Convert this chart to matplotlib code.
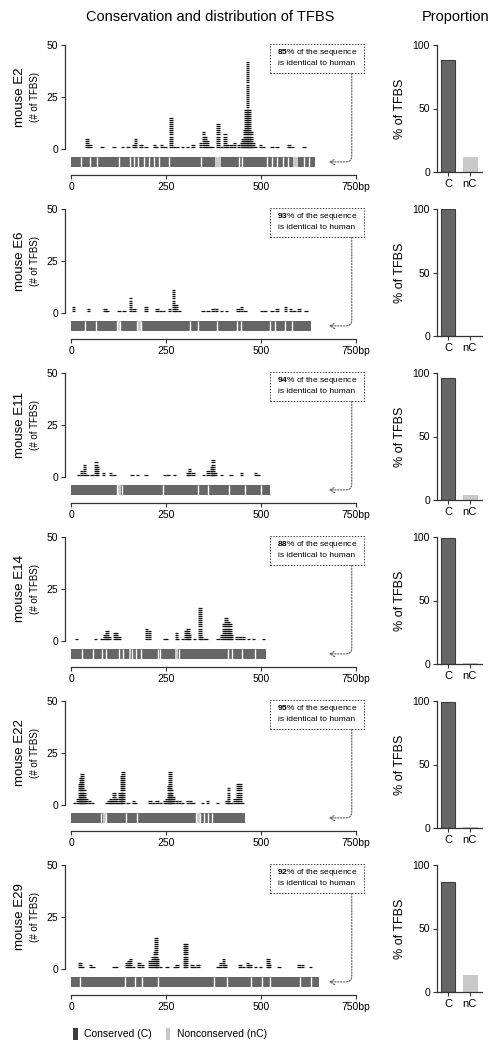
import numpy as np
import matplotlib.pyplot as plt
from matplotlib.patches import Rectangle, Patch

plt.rcParams['font.family'] = ['Liberation Sans', 'DejaVu Sans']
plt.rcParams['mathtext.fontset'] = 'custom'
plt.rcParams['mathtext.bf'] = 'Liberation Sans:bold'
plt.rcParams['mathtext.rm'] = 'Liberation Sans'

# ---- data ----
names = ["mouse E2", "mouse E6", "mouse E11", "mouse E14", "mouse E22", "mouse E29"]
identity = [85, 93, 94, 88, 95, 92]          # % identical to human
seq_len = [643, 631, 523, 514, 458, 653]     # bp
prop_c = [88, 100, 96, 99, 99, 87]           # % of TFBS conserved
prop_nc = [12, 0, 4, 1, 1, 13]               # % of TFBS nonconserved

# TFBS stacks: (position bp, number of TFBS)
e2_tfbs = [(42, 5), (50, 2), (82, 1), (113, 1), (135, 1), (150, 1), (164, 2), (170, 5), (184, 2),
           (197, 1), (219, 2), (225, 1), (238, 2), (247, 1), (263, 15), (272, 1), (281, 1), (294, 1),
           (307, 1), (321, 2), (341, 3), (348, 8), (354, 6), (359, 4), (365, 1), (371, 1), (387, 12),
           (396, 1), (405, 7), (412, 2), (421, 2), (430, 3), (441, 2), (448, 3), (452, 5), (457, 9),
           (461, 19), (465, 42), (469, 19), (474, 8), (479, 3), (485, 1), (498, 2), (507, 1),
           (529, 1), (542, 1), (574, 2), (583, 1), (613, 1)]
e6_tfbs = [(6, 3), (46, 2), (90, 2), (95, 1), (126, 1), (139, 1), (157, 7), (166, 2), (197, 3),
           (226, 2), (235, 1), (244, 1), (259, 2), (270, 11), (276, 4), (285, 1), (347, 1), (361, 1),
           (374, 2), (383, 2), (396, 1), (409, 1), (440, 2), (449, 3), (458, 1), (502, 1), (511, 1),
           (529, 1), (542, 2), (565, 3), (578, 2), (587, 1), (600, 2), (618, 1)]
e11_tfbs = [(20, 1), (28, 3), (35, 6), (42, 1), (55, 1), (66, 7), (70, 5), (86, 2), (104, 2),
            (113, 1), (161, 1), (175, 1), (197, 1), (246, 1), (255, 1), (272, 1), (308, 2), (312, 4),
            (321, 2), (348, 1), (361, 3), (370, 5), (374, 8), (379, 2), (396, 1), (421, 1),
            (448, 2), (485, 2), (492, 1)]
e14_tfbs = [(15, 1), (64, 1), (82, 1), (90, 3), (95, 5), (100, 2), (114, 4), (120, 4), (126, 2),
            (199, 6), (206, 5), (246, 1), (251, 1), (277, 4), (281, 1), (294, 1), (303, 5), (308, 6),
            (312, 3), (325, 1), (339, 16), (343, 2), (352, 1), (356, 1), (387, 1), (396, 3), (403, 8),
            (408, 11), (414, 9), (418, 8), (423, 3), (436, 2), (445, 2), (454, 2), (467, 1),
            (480, 1), (507, 1)]
e22_tfbs = [(9, 1), (17, 3), (22, 10), (26, 13), (29, 15), (34, 7), (39, 3), (48, 2), (57, 1),
            (93, 1), (99, 2), (104, 3), (108, 2), (113, 6), (119, 3), (123, 1), (129, 6), (133, 14),
            (137, 16), (150, 1), (164, 2), (170, 1), (208, 2), (217, 1), (226, 2), (235, 1),
            (246, 2), (253, 3), (258, 9), (261, 16), (265, 7), (270, 4), (277, 2), (285, 2),
            (294, 1), (306, 2), (315, 2), (321, 1), (346, 1), (359, 2), (386, 1), (410, 2),
            (414, 8), (421, 1), (432, 3), (438, 10), (445, 10), (452, 1)]
e29_tfbs = [(24, 3), (31, 1), (51, 2), (58, 1), (113, 1), (120, 1), (146, 3), (151, 4), (157, 5),
            (164, 1), (179, 3), (188, 2), (208, 4), (215, 6), (221, 8), (224, 15), (228, 5),
            (235, 1), (253, 1), (272, 1), (279, 2), (299, 12), (303, 12), (318, 2), (325, 1),
            (334, 2), (387, 1), (394, 3), (401, 5), (407, 2), (445, 2), (454, 1), (465, 3),
            (471, 2), (485, 1), (498, 1), (519, 5), (522, 2), (547, 1), (600, 2), (609, 2), (631, 1)]

# block boundaries in the sequence bar (bp) and nonconserved stretches (start, length)
e2_breaks = [27, 49, 68, 126, 155, 166, 177, 191, 206, 219, 232, 259, 343, 441, 449, 516, 529,
             543, 558, 572, 613, 627]
e2_nc = [(379, 17), (585, 13)]
e6_breaks = [37, 66, 121, 130, 175, 184, 312, 335, 383, 436, 447, 525, 538, 564, 582]
e6_nc = [(122, 7), (176, 7)]
e11_breaks = [121, 133, 241, 334, 361, 417, 458, 501]
e11_nc = [(122, 10)]
e14_breaks = [28, 59, 82, 93, 126, 137, 161, 170, 184, 228, 234, 283, 414, 423, 449, 485]
e14_nc = [(152, 7), (275, 7)]
e22_breaks = [80, 93, 146, 175, 329, 340, 350, 361, 372]
e22_nc = [(83, 8), (330, 10)]
e29_breaks = [24, 142, 168, 188, 228, 377, 410, 474, 503, 525, 603, 631]
e29_nc = []

tfbs_all = [e2_tfbs, e6_tfbs, e11_tfbs, e14_tfbs, e22_tfbs, e29_tfbs]
breaks_all = [e2_breaks, e6_breaks, e11_breaks, e14_breaks, e22_breaks, e29_breaks]
nc_all = [e2_nc, e6_nc, e11_nc, e14_nc, e22_nc, e29_nc]

# ---- style ----
dark = '#666666'
dark_edge = '#3c3c3c'
light = '#c9c9c9'
axcol = '#333333'

W, H = 498, 1050
fig = plt.figure(figsize=(W / 100, H / 100), dpi=100)


def fx(px):
    return px / W


def fy(py):
    return 1 - py / H


fig.text(fx(210), fy(17), 'Conservation and distribution of TFBS', ha='center', va='center', fontsize=10.5)
fig.text(fx(456), fy(17), 'Proportion', ha='center', va='center', fontsize=10.5)

bar_lo, bar_h = -8.6, 4.8
dash_half = 4.5

for i in range(6):
    y0 = 149 + 164 * i
    ax = fig.add_axes([fx(65), fy(y0 + 26), 302 / W, 132 / H])
    ax.set_xlim(-15.8, 779)
    ax.set_ylim(-12.5, 51)

    # stacked TFBS dashes
    for pos, n in tfbs_all[i]:
        ys = np.arange(1, n + 1)
        ax.hlines(ys, pos - dash_half, pos + dash_half, color='#111111', lw=0.9)

    # sequence bar
    ax.add_patch(Rectangle((0, bar_lo), seq_len[i], bar_h, facecolor=dark, edgecolor='none'))
    for s, w in nc_all[i]:
        ax.add_patch(Rectangle((s, bar_lo), w, bar_h, facecolor=light, edgecolor='none'))
    ax.vlines(breaks_all[i], bar_lo, bar_lo + bar_h, color='white', lw=1.0)

    # axes
    for sp in ['top', 'right']:
        ax.spines[sp].set_visible(False)
    ax.spines['left'].set_bounds(0, 50)
    ax.spines['bottom'].set_bounds(0, 750)
    for sp in ['left', 'bottom']:
        ax.spines[sp].set_color(axcol)
        ax.spines[sp].set_linewidth(0.9)
    ax.set_yticks([0, 25, 50])
    ax.set_xticks([0, 250, 500, 750])
    ax.set_xticklabels(['0', '250', '500', '750bp'])
    ax.tick_params(labelsize=7.5, length=3, width=0.8, color=axcol, pad=2)

    # identity box + arrow
    ax.add_patch(Rectangle((524, 36.5), 247, 14, facecolor='none', edgecolor='#444444',
                           lw=0.7, linestyle=(0, (1.5, 1.5)), clip_on=False))
    ax.text(647, 46.2, r'$\mathbf{%d}$%% of the sequence' % identity[i], ha='center', va='center',
            fontsize=6)
    ax.text(647, 40.9, 'is identical to human', ha='center', va='center', fontsize=6)
    ax.annotate('', xy=(679, bar_lo + bar_h / 2), xytext=(739, 36.5),
                arrowprops=dict(arrowstyle='->,head_length=0.35,head_width=0.2', lw=0.7,
                                color='#444444', linestyle=(0, (1.5, 1.5)),
                                connectionstyle='angle,angleA=90,angleB=0,rad=6',
                                shrinkA=0, shrinkB=0), annotation_clip=False)

    fig.text(fx(20), fy(y0 - 52), names[i], rotation=90, ha='center', va='center', fontsize=9.5)
    fig.text(fx(35), fy(y0 - 52), '(# of TFBS)', rotation=90, ha='center', va='center', fontsize=7)

    # proportion panel
    y0r = 172 + 164 * i
    bx = fig.add_axes([fx(437), fy(y0r), 45 / W, 127 / H])
    bx.bar([0, 1], [prop_c[i], prop_nc[i]], width=0.64, color=[dark, light],
           edgecolor=[dark_edge, light], lw=0.8)
    bx.set_xlim(-0.5, 1.55)
    bx.set_ylim(0, 100)
    for sp in ['top', 'right']:
        bx.spines[sp].set_visible(False)
    for sp in ['left', 'bottom']:
        bx.spines[sp].set_color(axcol)
        bx.spines[sp].set_linewidth(0.9)
    bx.set_yticks([0, 50, 100])
    bx.set_xticks([0, 1])
    bx.set_xticklabels(['C', 'nC'], fontsize=8)
    bx.tick_params(axis='y', labelsize=7.5)
    bx.tick_params(length=3, width=0.8, color=axcol, pad=2)
    bx.set_ylabel('% of TFBS', fontsize=9)
    bx.yaxis.set_label_coords(-0.69, 0.5)

handles = [Patch(facecolor='#3c3c3c', edgecolor='none'), Patch(facecolor=light, edgecolor='none')]
fig.legend(handles, ['Conserved (C)', 'Nonconserved (nC)'], loc='center left',
           bbox_to_anchor=(fx(64), fy(1034)), ncol=2, frameon=False, fontsize=7.5,
           handlelength=0.45, handleheight=1.4, handletextpad=0.6, columnspacing=1.3)

fig.savefig('out.png', dpi=100)
